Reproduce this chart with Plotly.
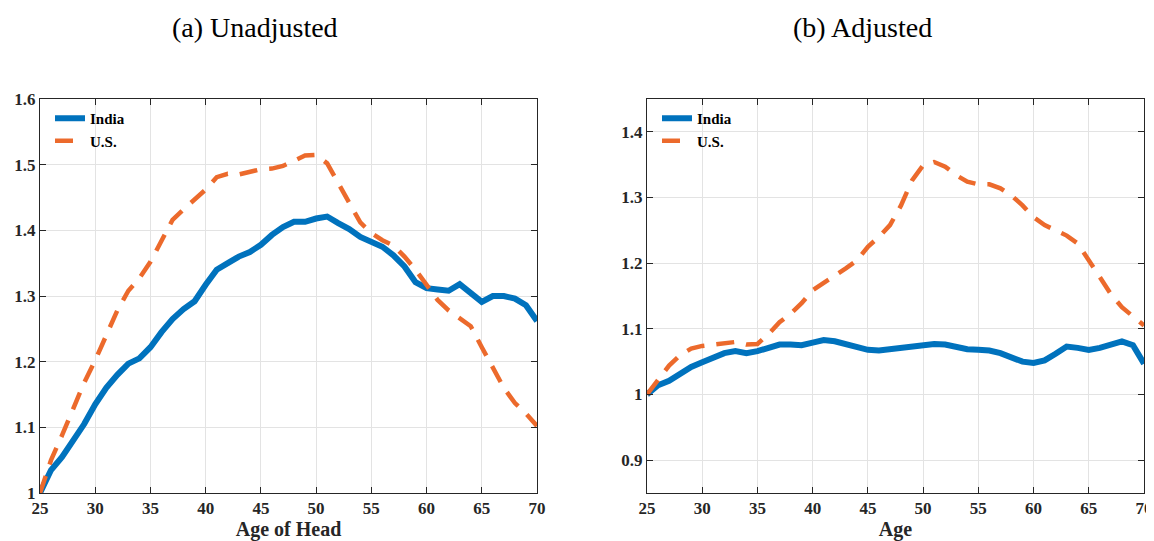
import plotly.graph_objects as go

ages = list(range(25, 71))

india_unadj = [1.000, 1.035, 1.055, 1.080, 1.105, 1.135, 1.160, 1.180, 1.197, 1.205,
               1.222, 1.245, 1.265, 1.280, 1.292, 1.317, 1.340, 1.350, 1.360, 1.367,
               1.378, 1.393, 1.405, 1.413, 1.413, 1.418, 1.421, 1.411, 1.402, 1.390,
               1.382, 1.375, 1.362, 1.345, 1.321, 1.312, 1.310, 1.308, 1.318, 1.304,
               1.291, 1.300, 1.300, 1.296, 1.286, 1.262]

us_unadj = [1.000, 1.050, 1.088, 1.130, 1.168, 1.202, 1.240, 1.278, 1.308, 1.327,
            1.352, 1.385, 1.416, 1.432, 1.446, 1.462, 1.481, 1.486, 1.485, 1.489,
            1.493, 1.494, 1.498, 1.506, 1.514, 1.515, 1.502, 1.472, 1.442, 1.412,
            1.396, 1.385, 1.377, 1.360, 1.340, 1.317, 1.294, 1.278, 1.267, 1.254,
            1.222, 1.192, 1.160, 1.137, 1.121, 1.102]

india_adj = [1.000, 1.014, 1.021, 1.031, 1.042, 1.049, 1.057, 1.063, 1.066, 1.063,
             1.066, 1.072, 1.076, 1.076, 1.075, 1.079, 1.083, 1.081, 1.076, 1.071,
             1.068, 1.067, 1.069, 1.071, 1.072, 1.075, 1.077, 1.076, 1.072, 1.069,
             1.068, 1.067, 1.063, 1.057, 1.050, 1.048, 1.052, 1.062, 1.073, 1.071,
             1.068, 1.071, 1.076, 1.081, 1.075, 1.047]

us_adj = [1.000, 1.021, 1.044, 1.060, 1.070, 1.074, 1.076, 1.078, 1.080, 1.076,
          1.077, 1.092, 1.110, 1.123, 1.139, 1.159, 1.171, 1.181, 1.192, 1.204,
          1.225, 1.240, 1.258, 1.288, 1.326, 1.349, 1.354, 1.347, 1.334, 1.324,
          1.320, 1.320, 1.314, 1.303, 1.288, 1.270, 1.258, 1.250, 1.242, 1.230,
          1.204, 1.176, 1.153, 1.133, 1.118, 1.105]

x_ticks = [25, 30, 35, 40, 45, 50, 55, 60, 65, 70]
y_ticks_left = [1.0, 1.1, 1.2, 1.3, 1.4, 1.5, 1.6]
y_ticks_right = [0.9, 1.0, 1.1, 1.2, 1.3, 1.4]

BLUE = "#0072BD"
ORANGE = "#EC6A2C"
FONT = "Liberation Serif"

fig = go.Figure()
fig.add_trace(go.Scatter(x=ages, y=india_unadj, mode="lines", name="India",
                         line=dict(color=BLUE, width=6), xaxis="x", yaxis="y",
                         legend="legend"))
fig.add_trace(go.Scatter(x=ages, y=us_unadj, mode="lines", name="U.S.",
                         line=dict(color=ORANGE, width=4.5, dash="18px,12px"),
                         xaxis="x", yaxis="y", legend="legend"))
fig.add_trace(go.Scatter(x=ages, y=india_adj, mode="lines", name="India",
                         line=dict(color=BLUE, width=6), xaxis="x2", yaxis="y2",
                         legend="legend2"))
fig.add_trace(go.Scatter(x=ages, y=us_adj, mode="lines", name="U.S.",
                         line=dict(color=ORANGE, width=4.5, dash="18px,12px"),
                         xaxis="x2", yaxis="y2", legend="legend2"))

# page body has an 8px margin: work in window pixels minus that offset
OFF = 8
W, H = 1154 - OFF, 541 - OFF


def px(x):
    return (x - OFF) / W


def py(y):
    return 1 - (y - OFF) / H


xd1 = [px(40), px(537)]
xd2 = [px(647), px(1144)]
yd = [py(493), py(99)]

axis_common = dict(
    showline=True, linecolor="#262626", linewidth=1, mirror="ticks",
    ticks="inside", ticklen=6, tickcolor="#262626", tickwidth=1,
    showgrid=True, gridcolor="#e3e3e3", gridwidth=1, zeroline=False,
    automargin=False,
    tickfont=dict(family=FONT, size=17, color="#262626", weight="bold"),
)

title_font = dict(family=FONT, size=20, color="#262626", weight="bold")
legend_font = dict(family=FONT, size=15, color="black", weight="bold")

fig.update_layout(
    template="none",
    width=W, height=H,
    margin=dict(l=0, r=0, t=0, b=0, autoexpand=False),
    paper_bgcolor="white", plot_bgcolor="white",
    font=dict(family=FONT),
    xaxis=dict(domain=xd1, range=[25, 70], tickvals=x_ticks, anchor="y",
               title=dict(text="Age of Head", standoff=5, font=title_font),
               **axis_common),
    yaxis=dict(domain=yd, range=[1.0, 1.6], tickvals=y_ticks_left,
               ticktext=["1", "1.1", "1.2", "1.3", "1.4", "1.5", "1.6"], anchor="x",
               **axis_common),
    xaxis2=dict(domain=xd2, range=[25, 70], tickvals=x_ticks, anchor="y2",
                title=dict(text="Age", standoff=5, font=title_font),
                **axis_common),
    yaxis2=dict(domain=yd, range=[0.85, 1.45], tickvals=y_ticks_right,
                ticktext=["0.9", "1", "1.1", "1.2", "1.3", "1.4"], anchor="x2",
                **axis_common),
    legend=dict(x=px(50), y=py(102), xanchor="left", yanchor="top",
                bgcolor="rgba(0,0,0,0)", tracegroupgap=0, itemwidth=30,
                font=legend_font),
    legend2=dict(x=px(657), y=py(102), xanchor="left", yanchor="top",
                 bgcolor="rgba(0,0,0,0)", tracegroupgap=0, itemwidth=30,
                 font=legend_font),
    annotations=[
        dict(text="(a) Unadjusted", x=px(255), y=py(28), xref="paper", yref="paper",
             xanchor="center", yanchor="middle", showarrow=False,
             font=dict(family=FONT, size=28, color="black")),
        dict(text="(b) Adjusted", x=px(862), y=py(28), xref="paper", yref="paper",
             xanchor="center", yanchor="middle", showarrow=False,
             font=dict(family=FONT, size=28, color="black")),
    ],
)

fig.write_html("out.html")
